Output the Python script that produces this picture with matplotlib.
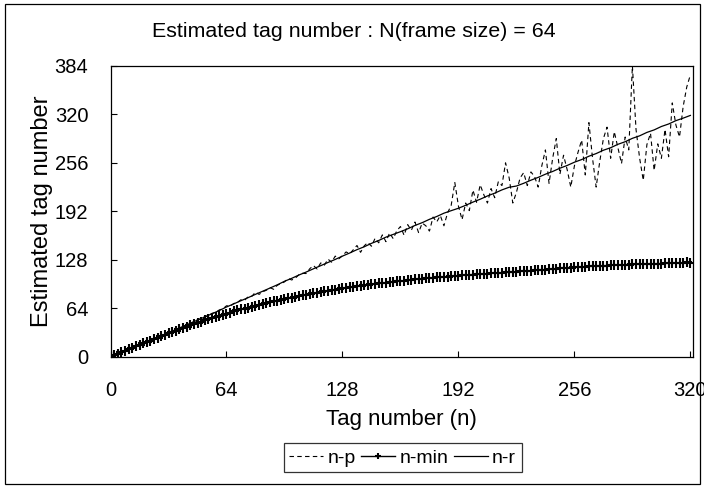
import numpy as np
import matplotlib
matplotlib.use("Agg")
import matplotlib.pyplot as plt
from matplotlib.patches import Rectangle

plt.rcParams['font.family'] = ['Liberation Sans', 'DejaVu Sans']

# tag numbers (x axis), sampled every 2 for n-p / n-min and every 4 for n-r
tag_fine = np.arange(0, 321, 2)
tag_coarse = np.arange(0, 321, 4)

# n-min : minimum estimation (saturating curve)
n_min = [
    0, 2, 4, 6, 8, 10, 12, 14,
    16, 17.9, 19.8, 21.7, 23.6, 25.5, 27.4, 29.3,
    31.1, 32.9, 34.7, 36.5, 38.2, 39.9, 41.6, 43.3,
    45.0, 46.6, 48.2, 49.8, 51.3, 52.8, 54.3, 55.8,
    57.2, 58.6, 60.0, 61.3, 62.6, 63.9, 65.2, 66.4,
    67.6, 68.8, 70.0, 71.1, 72.2, 73.3, 74.4, 75.4,
    76.4, 77.4, 78.4, 79.4, 80.3, 81.2, 82.1, 83.0,
    83.9, 84.8, 85.6, 86.4, 87.2, 88.0, 88.8, 89.6,
    90.3, 91.0, 91.7, 92.4, 93.1, 93.8, 94.5, 95.1,
    95.7, 96.3, 96.9, 97.5, 98.1, 98.7, 99.3, 99.8,
    100.3, 100.8, 101.3, 101.8, 102.3, 102.8, 103.3, 103.7,
    104.1, 104.5, 104.9, 105.3, 105.7, 106.1, 106.5, 106.9,
    107.3, 107.7, 108.1, 108.4, 108.7, 109.0, 109.3, 109.6,
    109.9, 110.2, 110.5, 110.8, 111.1, 111.4, 111.7, 112.0,
    112.5, 112.8, 113.2, 113.4, 113.9, 114.1, 114.6, 114.9,
    115.3, 115.6, 116.2, 116.4, 116.9, 117.1, 117.6, 117.9,
    118.2, 118.5, 118.9, 119.0, 119.4, 119.6, 119.9, 120.1,
    120.4, 120.5, 120.9, 121.0, 121.3, 121.4, 121.6, 121.9,
    122.0, 122.2, 122.4, 122.5, 122.7, 122.8, 123.0, 123.1,
    123.2, 123.4, 123.5, 123.6, 123.8, 123.9, 124.4, 124.6,
    124.5,
]

# n-p : noisy estimation
n_p = [
    0, 2, 4, 6, 8, 10, 12, 14,
    16, 18, 20, 22, 24, 26, 28, 30,
    32, 34, 36.5, 38, 40.5, 42, 44.5, 46.3,
    49, 50.5, 53, 54.6, 57.5, 58.8, 62, 63.5,
    67.5, 66.8, 70.5, 72.0, 75.5, 74.8, 79.5, 80.0,
    85.5, 82.5, 86.0, 88.0, 91.5, 89.2, 94.5, 96.8,
    99.0, 103.5, 101.5, 104.0, 108.5, 110.3, 110.0, 116.5,
    120.5, 116.0, 124.0, 121.0, 129.0, 125.0, 133.0, 129.5,
    133.5, 138.5, 136.0, 141.5, 147.0, 138.0, 146.5, 151.0,
    146.0, 156.5, 150.5, 161.0, 152.0, 163.5, 156.0, 166.5,
    172.0, 160.5, 174.5, 167.0, 178.0, 164.0, 176.5, 173.0,
    166.0, 184.5, 178.0, 186.5, 173.0, 190.0, 200.0, 230.0,
    199, 181, 203, 193, 220, 204, 227, 214,
    203, 222, 210, 231, 226, 256, 236, 203,
    217, 236, 243, 226, 244, 238, 224, 252,
    273, 229, 262, 288, 241, 266, 247, 224,
    252, 270, 286, 240, 309, 262, 224, 258,
    288, 303, 262, 297, 276, 255, 290, 273,
    384, 300, 262, 233, 280, 295, 246, 281,
    262, 300, 264, 335, 306, 290, 330, 356,
    372,
]

# n-r : proposed estimation
n_r = [
    0, 4, 8, 12, 16, 20, 24, 28,
    32, 36.1, 40.3, 44.4, 48.6, 52.7, 57.0, 61.2,
    65.9, 70.0, 74.2, 78.3, 82.6, 86.7, 90.9, 95.1,
    99.8, 103.7, 108.1, 112.0, 116.3, 120.4, 124.6, 128.6,
    133.0, 137.1, 141.5, 145.3, 149.8, 153.6, 158.0, 161.6,
    165.2, 169.0, 173.4, 177.1, 181.5, 185.2, 189.6, 192.9,
    196.1, 200.0, 204.2, 208.0, 212.3, 216.0, 220.3, 223.8,
    225.4, 229.0, 233.1, 236.8, 241.0, 244.6, 248.9, 252.5,
    256.8, 260.3, 264.7, 268.2, 272.6, 275.9, 280.4, 283.8,
    288.3, 291.6, 296.1, 299.4, 303.9, 307.2, 311.6, 314.9,
    318.5,
]

x_ticks = [0, 64, 128, 192, 256, 320]
y_ticks = [0, 64, 128, 192, 256, 320, 384]

fig = plt.figure(figsize=(7.04, 4.87), dpi=100)
ax = fig.add_axes([0.157, 0.267, 0.827, 0.598])

ax.plot(tag_fine, n_p, color='black', linestyle=(0, (4, 3)), linewidth=0.8, label='n-p')
ax.plot(tag_fine, n_min, color='black', linewidth=1.0, marker='+', markersize=7,
        markeredgewidth=1.5, label='n-min')
ax.plot(tag_coarse, n_r, color='black', linewidth=0.9, label='n-r')

ax.set_xlim(0, 321.3)
ax.set_ylim(0, 384)
ax.set_xticks(x_ticks)
ax.set_yticks(y_ticks)
ax.tick_params(direction='in', length=4, width=0.8, labelsize=14.5)
ax.tick_params(axis='x', pad=17)
ax.tick_params(axis='y', pad=16)
for s in ax.spines.values():
    s.set_linewidth(0.9)

ax.set_xlabel('Tag number (n)', fontsize=16, labelpad=7)
ax.set_ylabel('Estimated tag number', fontsize=17)
ax.yaxis.set_label_coords(-0.099, 0.5)
fig.text(0.502, 0.935, 'Estimated tag number : N(frame size) = 64', fontsize=15.4,
         ha='center', va='center')

leg = fig.legend(loc='center', bbox_to_anchor=(0.572, 0.06), ncol=3, fontsize=14,
                 frameon=True, fancybox=False, edgecolor='black', handlelength=1.75,
                 handletextpad=0.2, columnspacing=0.3, borderpad=0.3, markerscale=0.6)
leg.get_frame().set_linewidth(0.9)

# outer frame around whole figure
fig.patches.append(Rectangle((0.007, 0.006), 0.988, 0.985, transform=fig.transFigure,
                             fill=False, edgecolor='black', linewidth=0.9))

fig.savefig('out.png', dpi=100)
